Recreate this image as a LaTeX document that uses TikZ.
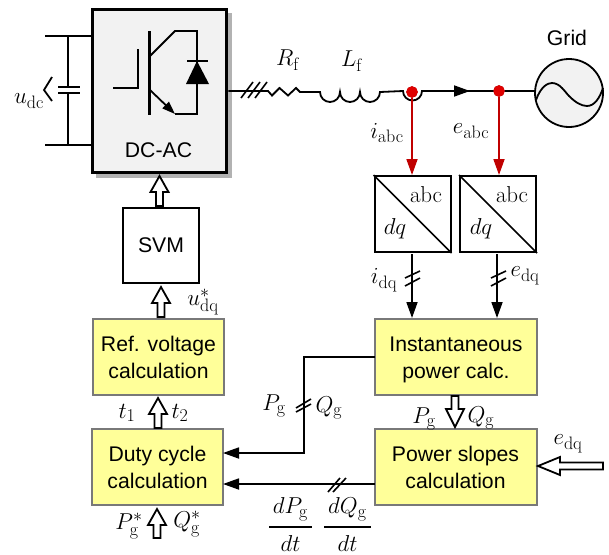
\RequirePackage{fix-cm}
\documentclass[tikz,border=0pt]{standalone}
\usepackage[no-math]{fontspec}
\setmainfont{Liberation Sans}
\DeclareMathSizes{23}{23}{18}{14}
\usetikzlibrary{arrows.meta,calc}
\definecolor{ybox}{HTML}{FFFF99}
\definecolor{redc}{HTML}{C00000}
\definecolor{dotred}{HTML}{E00000}
\newcommand\txt{\fontsize{21.2}{27}\selectfont}
\newcommand\tstrut{\rule[-5pt]{0pt}{25pt}}
\newcommand\hollowarrow[3][16]{%
  \coordinate (hB) at ($(#2)!#1pt!(#3)$);
  \draw[line width=1.8pt,fill=white,miter limit=10] (#2)
   -- ($(hB)!9pt!90:(#3)$) -- ($(hB)!3.5pt!90:(#3)$)
   -- ($(#3)!3.5pt!-90:(#2)$) -- ($(#3)!3.5pt!90:(#2)$)
   -- ($(hB)!3.5pt!-90:(#3)$) -- ($(hB)!9pt!-90:(#3)$) -- cycle;}
\tikzset{
  x=1pt,y=-1pt,
  wire/.style={line width=1.8pt},
  slash/.style={line width=1.6pt},
  tip/.style={-{Triangle[length=16pt,width=11pt]}},
  ybx/.style={draw=gray!95!black,line width=2pt,fill=ybox,align=center,inner sep=0pt,outer sep=0pt,font=\txt},
  wbx/.style={draw=black,line width=2pt,fill=white,align=center,inner sep=0pt,outer sep=0pt,font=\txt},
  lab/.style={font=\fontsize{23}{27}\selectfont,inner sep=0pt},
  dotn/.style={circle,fill=dotred,draw=redc,line width=.6pt,minimum size=11pt,inner sep=0pt,outer sep=0pt},
}
\begin{document}
\begin{tikzpicture}
\useasboundingbox (0,0) rectangle (609,554);
\fill[white] (0,0) rectangle (609,554);
% DC-AC
\fill[black!30] (96,13) rectangle (232,178);
\node[draw=black,line width=3.5pt,fill=black!5,minimum width=134pt,minimum height=163pt,inner sep=0pt,outer sep=1.75pt] (dcac) at (159.5,91) {};
\node[font=\txt,inner sep=0pt] (dcl) at (158.5,150) {DC-AC};
% DC side
\coordinate (dt) at (45,36); \coordinate (db) at (45,145);
\draw[wire] (dt) -- (dt -| dcac.west);
\draw[wire] (db) -- (db -| dcac.west);
\draw[wire] (68,36) -- (68,87) (68,93) -- (68,145);
\draw[wire] (58,87) -- (80,87) (58,93) -- (80,93);
\draw[wire] (52,77) -- (44,90) -- (52,101);
\node[lab] (udc) at (29,101) {$u_{\mathrm{dc}}$};
% IGBT
\draw[line width=3pt] (149,31) -- (149,115);
\draw[wire] (113,88) -- (138,88) -- (138,49);
\draw[wire] (150,56) -- (175,31) -- (197,31) -- (197,114) -- (175,114);
\draw[wire,-{Triangle[length=13pt,width=9pt]}] (150,90) -- (175,114);
\fill (197,61) -- (186,84) -- (209,84) -- cycle;
\draw[wire] (187,61) -- (208,61);
% output line
\node[dotn] (d1) at (412,92) {};
\node[dotn] (d2) at (499,91) {};
\node[draw=black,circle,line width=1.8pt,fill=black!5,minimum size=68pt,inner sep=0pt,outer sep=0pt] (grid) at (569,93) {};
\node[font=\txt,inner sep=0pt] (gl) at (567,38) {Grid};
\coordinate (a1) at (268,91);
\draw[wire] (dcac.east |- a1) -- (a1)
  -- (272,95.5) -- (279.5,88) -- (288,95.5) -- (296,88) -- (300,92) -- (320,92)
  arc[start angle=180,end angle=0,radius=10]
  arc[start angle=180,end angle=0,radius=10]
  arc[start angle=180,end angle=0,radius=10]
  -- (403,91) arc[start angle=180,end angle=0,radius=9.5] -- (d2) -- (grid.west |- d2);
\draw[tip,wire] (440,91) -- (470,91);
\draw[slash] (241,98) -- (253,82) (248,98) -- (260,82) (255,98) -- (267,82);
\draw[wire] (536,100) .. controls (541,86) and (548,83) .. (552,83)
  .. controls (560,83) and (565,92) .. (569,96)
  .. controls (575,102) and (581,106) .. (587,106)
  .. controls (595,106) and (600,97) .. (603,88);
\node[lab] (rf) at (288,60) {$R_{\mathrm f}$};
\node[lab] (lf) at (352,61) {$L_{\mathrm f}$};
\node[lab] (iabc) at (387,133) {$i_{\mathrm{abc}}$};
\node[lab] (eabc) at (471,131) {$e_{\mathrm{abc}}$};
% abc/dq boxes
\node[wbx,minimum width=76pt,minimum height=76pt,outer sep=1pt] (t1) at (412.5,214) {};
\node[wbx,minimum width=76pt,minimum height=76pt,outer sep=1pt] (t2) at (498,214) {};
\draw[line width=1.6pt] (t1.north west) -- (t1.south east);
\draw[line width=1.6pt] (t2.north west) -- (t2.south east);
\node[lab] (tl1) at (426,195) {$\mathrm{abc}$};
\node[lab] (tl2) at (512,195) {$\mathrm{abc}$};
\node[lab] (td1) at (395,229) {$dq$};
\node[lab] (td2) at (481,229) {$dq$};
\draw[draw=redc,line width=1.8pt,-{Triangle[length=16pt,width=11pt]}] (d1) -- (d1 |- t1.north);
\draw[draw=redc,line width=1.8pt,-{Triangle[length=16pt,width=11pt]}] (d2) -- (d2 |- t2.north);
\fill[dotred] (d1) circle (5.5pt) (d2) circle (5.5pt);
% yellow boxes
\node[ybx,minimum width=162pt,minimum height=76pt] (inst) at (456,357) {\tstrut Instantaneous\\\tstrut power calc.};
\node[ybx,minimum width=162pt,minimum height=76pt] (slopes) at (455.5,467) {\tstrut Power slopes\\\tstrut calculation};
\node[ybx,minimum width=131pt,minimum height=76pt] (ref) at (158.5,357) {\tstrut Ref. voltage\\\tstrut calculation};
\node[ybx,minimum width=131pt,minimum height=76pt] (duty) at (157.5,467) {\tstrut Duty cycle\\\tstrut calculation};
\node[wbx,minimum width=76pt,minimum height=75pt] (svm) at (161,245.5) {SVM};
% dq arrows
\draw[wire,tip] (412,254) -- (412,318);
\draw[wire,tip] (497,254) -- (497,318);
\draw[slash] (405,278) -- (420,271) (405,286) -- (420,278);
\draw[slash] (491,278) -- (506,271) (491,286) -- (506,278);
\node[lab] (idq) at (384,280) {$i_{\mathrm{dq}}$};
\node[lab] (edq) at (525,276) {$e_{\mathrm{dq}}$};
% feedback
\coordinate (c1) at (304,357);
\coordinate (c2) at (304,453);
\draw[wire,tip] (inst.west |- c1) -- (c1) -- (c2) -- (c2 -| duty.east);
\coordinate (c3) at (300,484);
\draw[wire,tip] (slopes.west |- c3) -- (c3) -- (c3 -| duty.east);
\draw[slash] (296,408) -- (311,399) (296,412) -- (311,404);
\draw[slash] (328,492) -- (340,478) (333,492) -- (346,478);
\node[lab] (pg1) at (274,406) {$P_{\mathrm g}$};
\node[lab] (qg1) at (329,408) {$Q_{\mathrm g}$};
\node[lab,anchor=base] (dp) at (290.5,532.7) {$\displaystyle{\,dP_{\mathrm g}\,\rule[-6pt]{0pt}{1pt}\above 1.8pt \rule{0pt}{18pt}dt}$};
\node[lab,anchor=base] (dq) at (347.5,532.7) {$\displaystyle{\,dQ_{\mathrm g}\,\rule[-6pt]{0pt}{1pt}\above 1.8pt \rule{0pt}{18pt}dt}$};
% hollow arrows
\coordinate (h1t) at (159.5,176); \coordinate (h1s) at (159.5,206);
\hollowarrow{h1t}{h1s}
\coordinate (h2t) at (161,287); \coordinate (h2s) at (161,317);
\hollowarrow{h2t}{h2s}
\coordinate (h3t) at (158,398); \coordinate (h3s) at (158,428);
\hollowarrow{h3t}{h3s}
\coordinate (h4t) at (157,509); \coordinate (h4s) at (157,538);
\hollowarrow{h4t}{h4s}
\coordinate (h5t) at (455,427); \coordinate (h5s) at (455,396);
\hollowarrow[18]{h5t}{h5s}
\coordinate (h6t) at (538,466); \coordinate (h6s) at (603,466);
\hollowarrow[22]{h6t}{h6s}
% labels
\node[lab] (ud) at (203,302) {$u^{*}_{\mathrm{dq}}$};
\node[lab] (t1l) at (127,413) {$t_1$};
\node[lab] (t2l) at (180,413) {$t_2$};
\node[lab] (ps) at (129,526) {$P^{*}_{\mathrm g}$};
\node[lab] (qs) at (187,524) {$Q^{*}_{\mathrm g}$};
\node[lab] (pg2) at (424,419) {$P_{\mathrm g}$};
\node[lab] (qg2) at (481,418) {$Q_{\mathrm g}$};
\node[lab] (edq2) at (568,444) {$e_{\mathrm{dq}}$};
\end{tikzpicture}
\end{document}
